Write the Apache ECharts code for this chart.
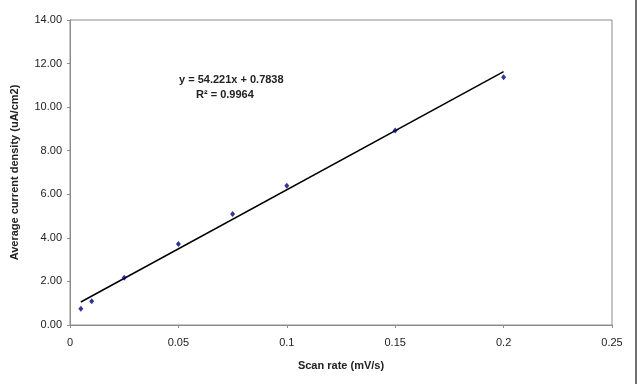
<!DOCTYPE html>
<html>
<head>
<meta charset="utf-8">
<style>
  html, body { margin: 0; padding: 0; background: #fff; }
  #chart { width: 641px; height: 384px; }
</style>
<script src="https://cdn.jsdelivr.net/npm/echarts@6/dist/echarts.min.js"></script>
</head>
<body>
<div id="chart"></div>
<script>
  // scan rate (mV/s)
  var scanRate = [0.005, 0.01, 0.025, 0.05, 0.075, 0.1, 0.15, 0.2];
  // average current density (uA/cm2)
  var currentDensity = [0.75, 1.09, 2.17, 3.72, 5.09, 6.39, 8.93, 11.37];
  // linear trendline y = slope * x + intercept
  var slope = 54.221;
  var intercept = 0.7838;
  var rSquared = 0.9964;

  var font = 'Liberation Sans, Arial, sans-serif';
  var grey = '#8c8c8c';

  var trendX = [scanRate[0], scanRate[scanRate.length - 1]];
  var trendData = trendX.map(function (x) { return [x, slope * x + intercept]; });

  var chart = echarts.init(document.getElementById('chart'));
  var option = {
    animation: false,
    grid: {
      left: 70,
      right: 29,
      top: 20,
      bottom: 59,
      show: true,
      borderColor: grey,
      borderWidth: 1
    },
    xAxis: {
      type: 'value',
      min: 0,
      max: 0.25,
      interval: 0.05,
      name: 'Scan rate (mV/s)',
      nameLocation: 'middle',
      nameGap: 35,
      nameTextStyle: { fontFamily: font, fontSize: 11, fontWeight: 'bold', color: '#222' },
      axisLine: { lineStyle: { color: grey, width: 1 } },
      axisTick: { show: true, length: 3, lineStyle: { color: grey } },
      axisLabel: { fontFamily: font, fontSize: 11, color: '#222', margin: 12 },
      splitLine: { show: false }
    },
    yAxis: {
      type: 'value',
      min: 0,
      max: 14,
      interval: 2,
      name: 'Average current density (uA/cm2)',
      nameLocation: 'middle',
      nameGap: 50,
      nameTextStyle: { fontFamily: font, fontSize: 11, fontWeight: 'bold', color: '#222' },
      axisLine: { show: true, lineStyle: { color: grey, width: 1 } },
      axisTick: { show: true, length: 3, lineStyle: { color: grey } },
      axisLabel: {
        fontFamily: font, fontSize: 11, color: '#222', margin: 8,
        formatter: function (v) { return v.toFixed(2); }
      },
      splitLine: { show: false }
    },
    series: [{
      name: 'trend',
      type: 'line',
      data: trendData,
      showSymbol: false,
      symbol: 'none',
      lineStyle: { color: '#000', width: 1.5 },
      z: 2
    }, {
      name: 'data',
      type: 'scatter',
      data: scanRate.map(function (x, i) { return [x, currentDensity[i]]; }),
      symbol: 'diamond',
      symbolSize: [5, 6],
      itemStyle: { color: '#000080' },
      z: 3
    }],
    graphic: [{
      type: 'text',
      left: 179,
      top: 74,
      style: {
        text: 'y = ' + slope + 'x + ' + intercept,
        font: 'bold 11px ' + font,
        fill: '#222'
      }
    }, {
      type: 'text',
      left: 196,
      top: 89,
      style: {
        text: 'R² = ' + rSquared,
        font: 'bold 11px ' + font,
        fill: '#222'
      }
    }, {
      type: 'line',
      shape: { x1: 636, y1: 0, x2: 636, y2: 384 },
      style: { stroke: '#707070', lineWidth: 2 }
    }]
  };
  chart.setOption(option);
</script>
</body>
</html>
